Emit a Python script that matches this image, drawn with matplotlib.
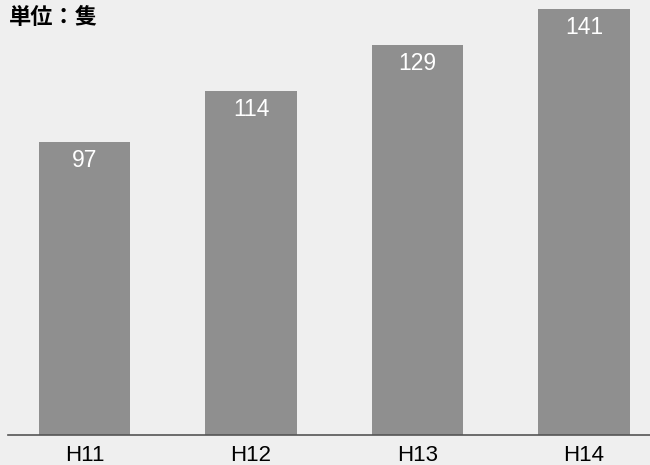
import matplotlib
matplotlib.use("Agg")
import matplotlib.pyplot as plt

categories = ["H11", "H12", "H13", "H14"]
values = [97, 114, 129, 141]

bg = "#efefef"
bar_color = "#8f8f8f"
latin = ["Liberation Sans", "DejaVu Sans"]

fig = plt.figure(figsize=(6.5, 4.65), dpi=100, facecolor=bg)
ax = fig.add_axes([8 / 650, 30 / 465, 642 / 650, 435 / 465], facecolor=bg)

x = list(range(len(categories)))
bars = ax.bar(x, values, width=0.55, color=bar_color)

for b, v in zip(bars, values):
    ax.annotate(str(v), (b.get_x() + b.get_width() / 2, v),
                xytext=(0, -5), textcoords="offset points",
                ha="center", va="top", color="white", fontsize=16.5,
                family=latin)

ax.set_xlim(-0.459, 3.396)
ax.set_ylim(0, 144)
ax.set_xticks(x)
ax.set_xticklabels(categories, fontsize=16, family=latin)
ax.tick_params(axis="x", length=0, pad=7)
ax.set_yticks([])
for s in ["top", "right", "left"]:
    ax.spines[s].set_visible(False)
ax.spines["bottom"].set_color("#555555")
ax.spines["bottom"].set_linewidth(1.2)

fig.text(9 / 650, 1 - 6 / 465, "単位：隻", ha="left", va="top", fontsize=16,
         fontweight="bold", family=["Noto Sans CJK JP", "DejaVu Sans"])

fig.savefig("out.png", dpi=100, facecolor=bg)
